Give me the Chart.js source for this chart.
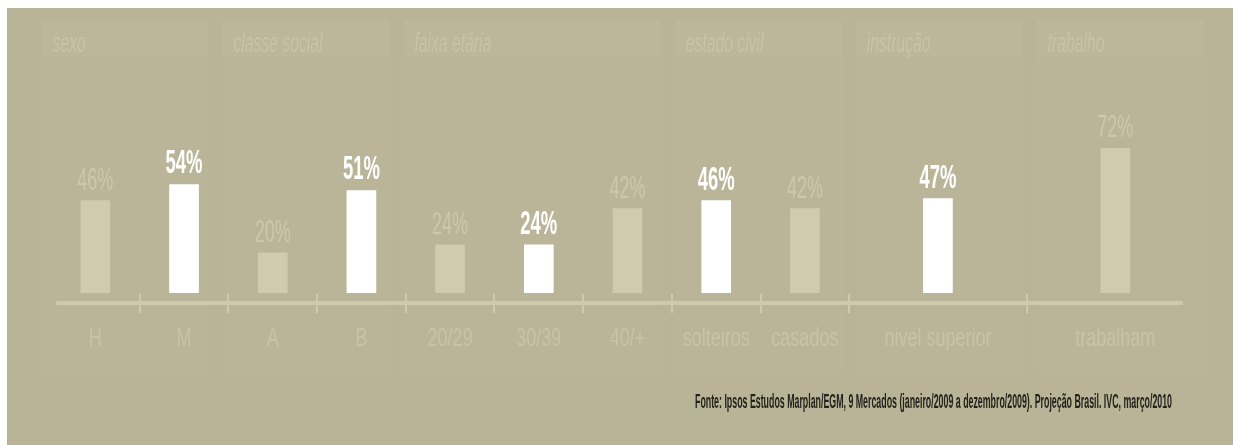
<!DOCTYPE html>
<html>
<head>
<meta charset="utf-8">
<script src="https://cdn.jsdelivr.net/npm/chart.js@4.4.1/dist/chart.umd.min.js"></script>
<style>
  body { margin: 0; background: #fff; }
  #wrap { width: 1233px; height: 445px; }
</style>
</head>
<body>
<div id="wrap"><canvas id="profileChart" width="1233" height="445"></canvas></div>
<script>
// Reader profile by group
const categories = ['H', 'M', 'A', 'B', '20/29', '30/39', '40/+', 'solteiros', 'casados', 'nivel superior', 'trabalham'];
const values = [46, 54, 20, 51, 24, 24, 42, 46, 42, 47, 72];
const highlighted = [false, true, false, true, false, true, false, true, false, true, false];
const slotWidths = [1, 1, 1, 1, 1, 1, 1, 1, 1, 2, 2];
const groupNames = ['sexo', 'classe social', 'faixa etária', 'estado civil', 'instrução', 'trabalho'];
const groupSizes = [2, 2, 3, 2, 1, 1];
const sourceNote = 'Fonte: Ipsos Estudos Marplan/EGM, 9 Mercados (janeiro/2009 a dezembro/2009). Projeção Brasil. IVC, março/2010';

// slot layout on a linear x axis
const slotStarts = [];
let total = 0;
slotWidths.forEach(w => { slotStarts.push(total); total += w; });
const slotCenters = slotStarts.map((s, i) => s + slotWidths[i] / 2);
const tickValues = slotStarts.slice(1);

const groups = [];
let idx = 0;
groupNames.forEach((name, g) => {
    const last = idx + groupSizes[g] - 1;
    groups.push({ name, start: slotStarts[idx], end: slotStarts[last] + slotWidths[last] });
    idx += groupSizes[g];
});

const BG = '#b9b497';
const FAINT = '#c8c3a7';
const FONT = '"Liberation Sans", Arial, sans-serif';

// condensed look: plain font squeezed horizontally
function narrowText(ctx, text, x, y, font, color, squeeze, align) {
    ctx.save();
    ctx.font = font;
    ctx.fillStyle = color;
    ctx.textAlign = align || 'center';
    ctx.textBaseline = 'alphabetic';
    ctx.translate(x, y);
    ctx.scale(squeeze, 1);
    ctx.fillText(text, 0, 0);
    ctx.restore();
}

const backdrop = {
    id: 'backdrop',
    beforeDraw(chart) {
        const ctx = chart.ctx;
        const x = chart.scales.x;
        // group panels sit on a slightly wider spacing than the bar slots
        const panelPx = v => x.getPixelForValue(v * 1.02 - 0.106);
        ctx.save();
        ctx.fillStyle = '#ffffff';
        ctx.fillRect(0, 0, chart.width, chart.height);
        ctx.fillStyle = BG;
        ctx.fillRect(7, 8, chart.width - 7, chart.height - 8);
        groups.forEach(g => {
            const left = panelPx(g.start);
            const right = panelPx(g.end) - 14;
            ctx.fillStyle = '#bab598';
            ctx.fillRect(left, 20, right - left, 353);
            ctx.fillStyle = '#bcb79a';
            ctx.fillRect(left, 20, right - left, 37);
            narrowText(ctx, g.name, left + 11, 52, 'italic 28px ' + FONT, FAINT, 0.56, 'left');
        });
        ctx.restore();
    }
};

const overlay = {
    id: 'overlay',
    afterDatasetsDraw(chart) {
        const ctx = chart.ctx;
        const x = chart.scales.x;
        const meta = chart.getDatasetMeta(0);
        ctx.save();
        // axis line with slot ticks
        ctx.strokeStyle = '#cfcaae';
        ctx.lineWidth = 4;
        ctx.beginPath();
        ctx.moveTo(x.getPixelForValue(0.06), 303);
        ctx.lineTo(x.getPixelForValue(12.76), 303);
        ctx.stroke();
        ctx.lineWidth = 2;
        tickValues.forEach(v => {
            const px = Math.round(x.getPixelForValue(v));
            ctx.beginPath();
            ctx.moveTo(px, 294);
            ctx.lineTo(px, 313);
            ctx.stroke();
        });
        // category labels and bar values
        meta.data.forEach((bar, i) => {
            narrowText(ctx, categories[i], bar.x, 346, '25px ' + FONT, FAINT, 0.72);
            if (highlighted[i]) {
                narrowText(ctx, values[i] + '%', bar.x, bar.y - 11, 'bold 33px ' + FONT, '#ffffff', 0.56);
            } else {
                narrowText(ctx, values[i] + '%', bar.x, bar.y - 11, '31px ' + FONT, '#cdc8ab', 0.58);
            }
        });
        // source note, right aligned
        ctx.font = 'bold 20px ' + FONT;
        const w = ctx.measureText(sourceNote).width;
        narrowText(ctx, sourceNote, 1172, 408, 'bold 20px ' + FONT, '#24221b', 477 / w, 'right');
        ctx.restore();
    }
};

new Chart(document.getElementById('profileChart').getContext('2d'), {
    type: 'bar',
    data: {
        datasets: [{
            data: categories.map((c, i) => ({ x: slotCenters[i], y: values[i] })),
            backgroundColor: highlighted.map(h => h ? '#ffffff' : '#d0cbae'),
            barThickness: 29
        }]
    },
    options: {
        responsive: false,
        animation: false,
        layout: { padding: { left: 51, right: 29, top: 92, bottom: 152 } },
        scales: {
            x: { type: 'linear', min: 0, max: total, offset: false, display: false },
            y: { min: 0, max: 100, display: false }
        },
        plugins: { legend: { display: false }, tooltip: { enabled: false } }
    },
    plugins: [backdrop, overlay]
});
</script>
</body>
</html>
